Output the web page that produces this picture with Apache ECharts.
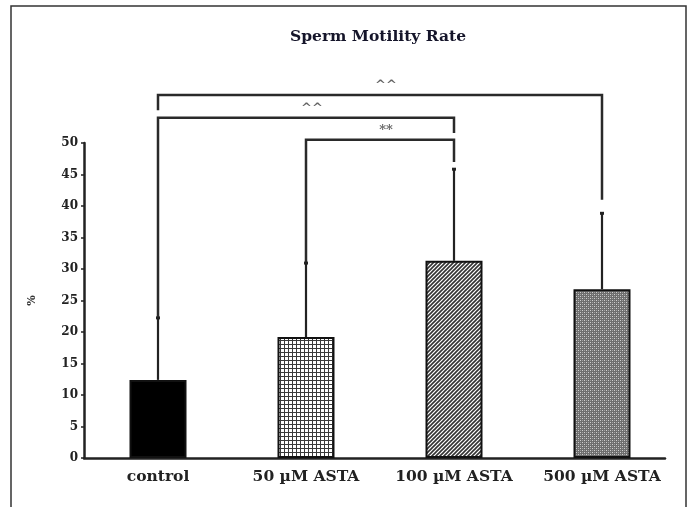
<!DOCTYPE html>
<html>
<head>
<meta charset="utf-8">
<script src="https://cdn.jsdelivr.net/npm/echarts@6/dist/echarts.min.js"></script>
<style>
html,body{margin:0;padding:0;background:#fff;}
#chart{width:692px;height:507px;}
</style>
</head>
<body>
<div id="chart"></div>
<script>
// ---- data ----
const categories = ['control', '50 µM ASTA', '100 µM ASTA', '500 µM ASTA'];
const means = [12.4, 19.2, 31.3, 26.8];
const errorTops = [22.4, 31.1, 46.0, 39.0];
const yTicks = { min: 0, max: 50, interval: 5 };
const bracketFrom = [0, 0, 1];
const bracketTo = [3, 2, 2];
const bracketLevel = [57.6, 54.0, 50.5];
const bracketLeftEnd = [55.2, 22.4, 31.1];
const bracketRightEnd = [41.0, 51.6, 47.0];
const bracketLabels = ['^^', '^^', '**'];
const titleText = 'Sperm Motility Rate';
const yName = '%';

// ---- patterns ----
function makeCanvas(w, h, draw) {
  const c = document.createElement('canvas');
  c.width = w; c.height = h;
  const ctx = c.getContext('2d');
  draw(ctx, w, h);
  return c;
}
const gridPattern = makeCanvas(4, 4, (ctx) => {
  ctx.fillStyle = '#fff'; ctx.fillRect(0, 0, 4, 4);
  ctx.fillStyle = '#3a3a3a';
  ctx.fillRect(0, 0, 4, 1);
  ctx.fillRect(0, 0, 1, 4);
});
const diagPattern = makeCanvas(4, 4, (ctx) => {
  ctx.fillStyle = '#fff'; ctx.fillRect(0, 0, 4, 4);
  ctx.strokeStyle = '#333'; ctx.lineWidth = 1.6;
  ctx.beginPath();
  ctx.moveTo(-1, 5); ctx.lineTo(5, -1);
  ctx.moveTo(-1, 1); ctx.lineTo(1, -1);
  ctx.moveTo(3, 5); ctx.lineTo(5, 3);
  ctx.stroke();
});
const dotPattern = makeCanvas(4, 4, (ctx) => {
  ctx.fillStyle = '#6e6e6e'; ctx.fillRect(0, 0, 4, 4);
  ctx.fillStyle = '#d0d0d0';
  ctx.fillRect(0, 0, 1, 1);
  ctx.fillRect(2, 2, 1, 1);
  ctx.fillStyle = '#a0a0a0';
  ctx.fillRect(2, 0, 1, 1);
  ctx.fillRect(0, 2, 1, 1);
});
const barFills = [
  '#000',
  { image: gridPattern, repeat: 'repeat' },
  { image: diagPattern, repeat: 'repeat' },
  { image: dotPattern, repeat: 'repeat' }
];

const serif = 'DejaVu Serif';
const ink = '#222';

const chart = echarts.init(document.getElementById('chart'), null, { renderer: 'canvas' });

const barData = means.map((v, i) => ({
  value: v,
  itemStyle: { color: barFills[i], borderColor: '#111', borderWidth: 2 }
}));
const errData = means.map((v, i) => [i, v, errorTops[i]]);
const bracketData = bracketFrom.map((f, i) => [f, bracketTo[i], bracketLevel[i], bracketLeftEnd[i], bracketRightEnd[i], i]);

chart.setOption({
  animation: false,
  backgroundColor: '#fff',
  title: {
    text: titleText,
    left: 285, top: 24,
    textStyle: { fontFamily: serif, fontWeight: 'bold', fontSize: 15.5, color: '#15152a' }
  },
  graphic: [{
    type: 'rect',
    shape: { x: 11, y: 6, width: 675, height: 520 },
    style: { fill: 'none', stroke: '#333', lineWidth: 1.5 },
    silent: true, z: -1
  }],
  grid: [
    { left: 84, top: 143, bottom: 49, width: 592 },
    { left: 84, top: 143, bottom: 49, width: 581 }
  ],
  xAxis: [{
    type: 'category', gridIndex: 0, data: categories,
    axisLine: { show: false },
    axisTick: { show: false },
    axisLabel: { interval: 0, fontFamily: serif, fontWeight: 'bold', fontSize: 15.5, color: ink, margin: 11 }
  }, {
    type: 'value', gridIndex: 1, min: 0, max: 1,
    axisLine: { show: true, lineStyle: { color: ink, width: 2.5 } },
    axisTick: { show: false }, axisLabel: { show: false }, splitLine: { show: false }
  }],
  yAxis: [{
    type: 'value', gridIndex: 0, min: yTicks.min, max: yTicks.max, interval: yTicks.interval,
    name: yName, nameLocation: 'middle', nameGap: 46, nameRotate: 90,
    nameTextStyle: { fontFamily: serif, fontWeight: 'bold', fontSize: 11, color: '#333' },
    axisLine: { show: true, lineStyle: { color: ink, width: 2.5 } },
    axisTick: { show: true, length: 3, lineStyle: { color: ink, width: 1.5 } },
    axisLabel: { fontFamily: serif, fontWeight: 'bold', fontSize: 12, color: ink, margin: 6 },
    splitLine: { show: false }
  }, {
    type: 'value', gridIndex: 1, min: 0, max: 1, show: false
  }],
  series: [{
    type: 'bar', xAxisIndex: 0, yAxisIndex: 0,
    data: barData, barWidth: 57, z: 3
  }, {
    type: 'custom', xAxisIndex: 0, yAxisIndex: 0, clip: false, z: 2,
    data: errData,
    renderItem: function (params, api) {
      const x = api.value(0);
      const p0 = api.coord([x, api.value(1)]);
      const p1 = api.coord([x, api.value(2)]);
      return {
        type: 'group',
        children: [{
          type: 'line',
          shape: { x1: p0[0], y1: p0[1], x2: p1[0], y2: p1[1] },
          style: { stroke: ink, lineWidth: 2.2 }
        }, {
          type: 'line',
          shape: { x1: p1[0] - 2, y1: p1[1] + 1, x2: p1[0] + 2, y2: p1[1] + 1 },
          style: { stroke: ink, lineWidth: 3 }
        }]
      };
    }
  }, {
    type: 'custom', xAxisIndex: 0, yAxisIndex: 0, clip: false, z: 4,
    data: bracketData,
    renderItem: function (params, api) {
      const f = api.value(0), t = api.value(1), lv = api.value(2);
      const le = api.value(3), re = api.value(4);
      const idx = api.value(5);
      const a = api.coord([f, le]);
      const b = api.coord([f, lv]);
      const c = api.coord([t, lv]);
      const d = api.coord([t, re]);
      return {
        type: 'group',
        children: [{
          type: 'polyline',
          shape: { points: [a, b, c, d] },
          style: { stroke: '#2a2a2a', lineWidth: 2.5, fill: null, lineJoin: 'miter' }
        }, {
          type: 'text',
          style: {
            text: bracketLabels[idx],
            x: (b[0] + c[0]) / 2 + 6, y: b[1] - 3,
            align: 'center', verticalAlign: 'bottom',
            fontFamily: serif, fontSize: 13, fontWeight: 'bold', fill: '#666'
          }
        }]
      };
    }
  }]
});
</script>
</body>
</html>
